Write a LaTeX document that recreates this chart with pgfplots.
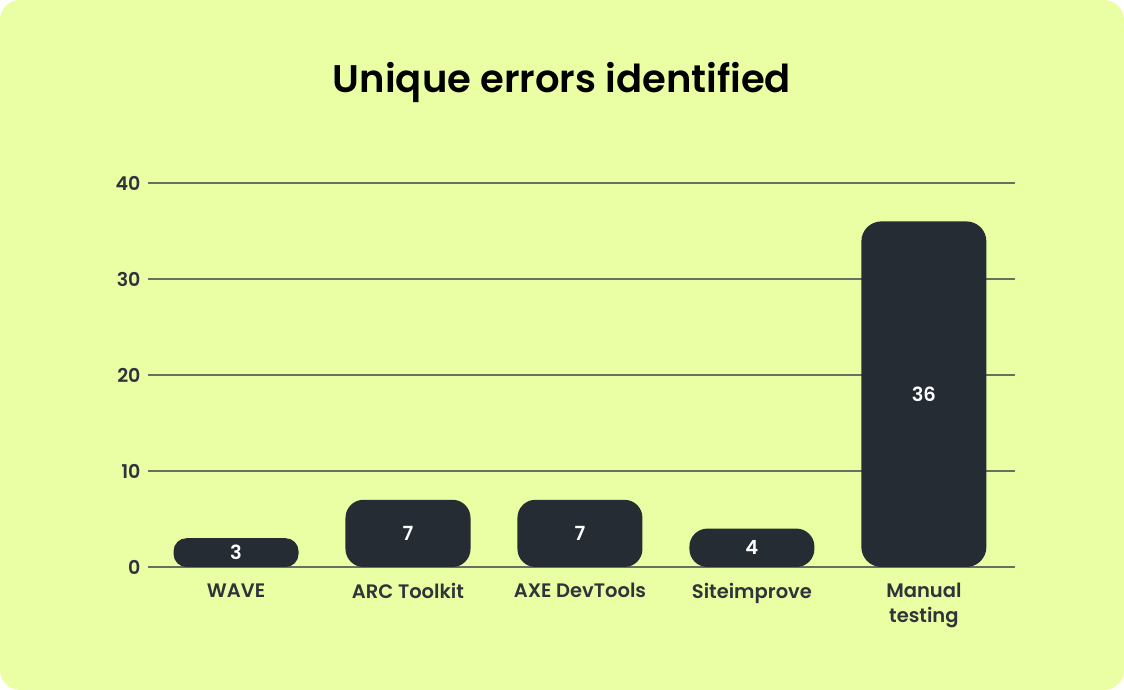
\documentclass[border=0pt]{standalone}
\usepackage{pgfplots}
\pgfplotsset{compat=1.18}
\usepackage{fontspec}
\setmainfont{Poppins}
\newfontfamily\semifont{Poppins SemiBold}
\definecolor{bg}{HTML}{EAFFA4}
\definecolor{barc}{HTML}{262C34}
\definecolor{gridc}{HTML}{6B6E60}
\definecolor{txt}{HTML}{2F333A}

\begin{document}
\begin{tikzpicture}
\fill[bg, rounded corners=20pt] (0pt,0pt) rectangle (1124pt,690pt);
\node[anchor=base, font=\semifont\fontsize{38.5}{42}\selectfont, text=black] at (562pt,597pt) {Unique errors identified};
\begin{axis}[
  at={(148pt,123pt)}, anchor=south west,
  scale only axis, width=867pt, height=384pt,
  xmin=-0.512, xmax=4.53, ymin=0, ymax=40,
  axis line style={draw=none}, tick style={draw=none},
  major tick length=0pt,
  ytick={0,10,...,40},
  ymajorgrids, grid style={gridc, line width=1.5pt},
  xtick={0,...,4},
  xticklabels={WAVE, ARC Toolkit, AXE DevTools, Siteimprove, Manual\\testing},
  xticklabel style={align=center, font=\semifont\fontsize{19.5}{25}\selectfont, text=txt, yshift=-13pt},
  yticklabel style={font=\semifont\fontsize{19}{22}\selectfont, text=txt, xshift=-4pt},
  /pgf/number format/assume math mode=true,
  clip=false,
]
% bars
\addplot[ybar, bar width=0.727, bar shift=0pt, fill=barc, draw=none, rounded corners=13pt] coordinates {(0,3)};
\addplot[ybar, bar width=0.727, bar shift=0pt, fill=barc, draw=none, rounded corners=18pt] coordinates {(1,7) (2,7) (3,4)};
\addplot[ybar, bar width=0.727, bar shift=0pt, fill=barc, draw=none, rounded corners=20pt] coordinates {(4,36)};
% value labels in the middle of each bar
\addplot[draw=none, mark=none, nodes near coords, point meta=explicit symbolic,
  nodes near coords style={anchor=center, text=white, font=\semifont\fontsize{19.5}{22}\selectfont}]
  coordinates {(0,1.5)[3] (1,3.5)[7] (2,3.5)[7] (3,2)[4] (4,18)[36]};
\end{axis}
\end{tikzpicture}
\end{document}
